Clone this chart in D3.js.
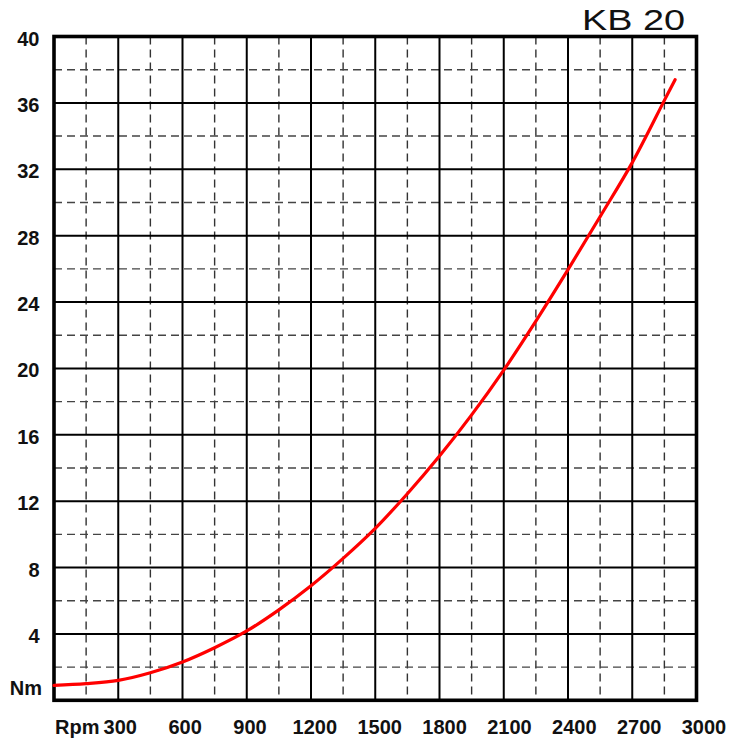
<!DOCTYPE html>
<html>
<head>
<meta charset="utf-8">
<script src="https://cdn.jsdelivr.net/npm/d3@7"></script>
<style>
  html, body { margin: 0; padding: 0; background: #fff; }
  svg { display: block; }
  text { font-family: "Liberation Sans", Arial, sans-serif; }
</style>
</head>
<body>
<svg id="chart" width="739" height="740"></svg>
<script>
// Torque curve of the KB 20 unit: speed (rpm) against torque (Nm)
const title = "KB 20";
const rpm = [0, 150, 300, 450, 600, 750, 900, 1050, 1200, 1350, 1500, 1650, 1800, 1950, 2100, 2250, 2400, 2550, 2700, 2850, 2900];
const torque = [0.9, 1.0, 1.2, 1.66, 2.31, 3.17, 4.18, 5.45, 6.9, 8.55, 10.36, 12.45, 14.72, 17.2, 19.9, 22.85, 25.95, 29.15, 32.4, 36.15, 37.4];
const xTickLabels = [300, 600, 900, 1200, 1500, 1800, 2100, 2400, 2700, 3000];
const yTickLabels = [4, 8, 12, 16, 20, 24, 28, 32, 36, 40];
const xUnit = "Rpm";
const yUnit = "Nm";

const svg = d3.select("#chart");

const x = d3.scaleLinear().domain([0, 3000]).range([54, 696.5]);
const y = d3.scaleLinear().domain([0, 40]).range([700.3, 36.5]);
// tick labels sit on a slightly wider spread than the grid
const xLabel = d3.scaleLinear().domain([300, 3000]).range([120.3, 704]);

const g = svg.append("g");

// minor (dashed) grid
const minorX = d3.range(150, 3000, 300);
const minorY = d3.range(2, 40, 4);
g.selectAll("line.mx").data(minorX).join("line")
  .attr("x1", d => x(d)).attr("x2", d => x(d))
  .attr("y1", y(40)).attr("y2", y(0))
  .attr("stroke", "#333").attr("stroke-width", 1.4)
  .attr("stroke-dasharray", "8,5");
g.selectAll("line.my").data(minorY).join("line")
  .attr("y1", d => y(d)).attr("y2", d => y(d))
  .attr("x1", x(0)).attr("x2", x(3000))
  .attr("stroke", "#444").attr("stroke-width", 1.4)
  .attr("stroke-dasharray", "8,5");

// major (solid) grid
g.selectAll("line.Mx").data(d3.range(300, 3000, 300)).join("line")
  .attr("x1", d => x(d)).attr("x2", d => x(d))
  .attr("y1", y(40)).attr("y2", y(0))
  .attr("stroke", "#000").attr("stroke-width", 2);
g.selectAll("line.My").data(d3.range(4, 40, 4)).join("line")
  .attr("y1", d => y(d)).attr("y2", d => y(d))
  .attr("x1", x(0)).attr("x2", x(3000))
  .attr("stroke", "#000").attr("stroke-width", 2);

// frame
g.append("rect")
  .attr("x", x(0)).attr("y", y(40))
  .attr("width", x(3000) - x(0)).attr("height", y(0) - y(40))
  .attr("fill", "none").attr("stroke", "#000").attr("stroke-width", 3.6);

// torque curve
const pts = rpm.map((r, i) => [r, torque[i]]);
g.append("path")
  .datum(pts)
  .attr("fill", "none")
  .attr("stroke", "#ff0000")
  .attr("stroke-width", 3.2)
  .attr("stroke-linecap", "round")
  .attr("d", d3.line().x(d => x(d[0])).y(d => y(d[1])).curve(d3.curveCatmullRom.alpha(0.5)));

// y tick labels
svg.selectAll("text.yl").data(yTickLabels).join("text")
  .attr("x", 39.5).attr("y", d => y(d) + 9)
  .attr("text-anchor", "end")
  .attr("font-size", 20).attr("font-weight", "bold").attr("fill", "#111")
  .text(d => d);
svg.append("text")
  .attr("x", 42).attr("y", y(0) - 5.5)
  .attr("text-anchor", "end")
  .attr("font-size", 20).attr("font-weight", "bold").attr("fill", "#111")
  .text(yUnit);

// x tick labels
svg.selectAll("text.xl").data(xTickLabels).join("text")
  .attr("x", d => xLabel(d)).attr("y", 734)
  .attr("text-anchor", "middle")
  .attr("font-size", 20).attr("font-weight", "bold").attr("fill", "#111")
  .text(d => d);
svg.append("text")
  .attr("x", 55).attr("y", 734)
  .attr("text-anchor", "start")
  .attr("font-size", 20).attr("font-weight", "bold").attr("fill", "#111")
  .text(xUnit);

// title
svg.append("text")
  .attr("x", 582).attr("y", 29.5)
  .attr("font-size", 29).attr("fill", "#111")
  .attr("textLength", 103).attr("lengthAdjust", "spacingAndGlyphs")
  .text(title);
</script>
</body>
</html>
